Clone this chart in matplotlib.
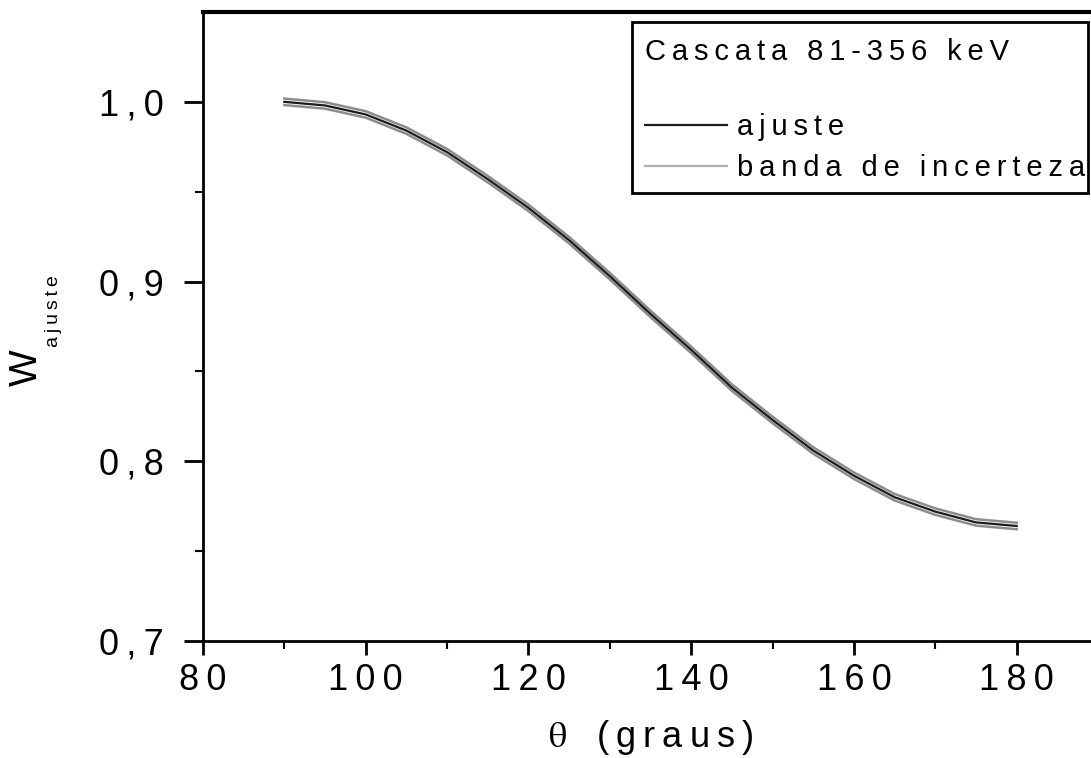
import matplotlib
matplotlib.use("Agg")
import matplotlib.pyplot as plt
from matplotlib.lines import Line2D
from matplotlib.patches import Rectangle

plt.rcParams["font.family"] = ["Liberation Sans", "DejaVu Sans"]
plt.rcParams["mathtext.fontset"] = "stix"

# fitted angular correlation, 81-356 keV cascade
theta = [90, 95, 100, 105, 110, 115, 120, 125, 130, 135,
         140, 145, 150, 155, 160, 165, 170, 175, 180]
w_fit = [1.000, 0.998, 0.993, 0.984, 0.972, 0.957, 0.941, 0.923, 0.903, 0.882,
         0.862, 0.841, 0.823, 0.806, 0.792, 0.780, 0.772, 0.766, 0.764]
w_err = [0.0018, 0.0018, 0.0018, 0.0018, 0.0018, 0.0018, 0.0018, 0.0018, 0.0018, 0.0018,
         0.0018, 0.0018, 0.0018, 0.0018, 0.0018, 0.0018, 0.0018, 0.0018, 0.0018]

x_ticks = [80, 100, 120, 140, 160, 180]
x_labels = ["80", "100", "120", "140", "160", "180"]
y_ticks = [0.7, 0.8, 0.9, 1.0]
y_labels = ["0,7", "0,8", "0,9", "1,0"]

W, H = 1091, 758


def spaced(s):
    # wide letter tracking
    return "\u2009".join(s)


fig = plt.figure(figsize=(W / 100, H / 100), dpi=100)
ax = fig.add_axes([203 / W, 1 - 641 / H, 895 / W, (641 - 12) / H])

upper = [w + e for w, e in zip(w_fit, w_err)]
lower = [w - e for w, e in zip(w_fit, w_err)]
ax.plot(theta, upper, color="#8c8c8c", lw=1.8)
ax.plot(theta, lower, color="#8c8c8c", lw=1.8)
ax.plot(theta, w_fit, color="#1a1a1a", lw=1.6)

ax.set_xlim(80, 190)
ax.set_ylim(0.7, 1.05)
ax.set_xticks(x_ticks)
ax.set_xticklabels([spaced(s) for s in x_labels])
ax.set_xticks([90, 110, 130, 150, 170, 190], minor=True)
ax.set_yticks(y_ticks)
ax.set_yticklabels([spaced(s) for s in y_labels])
ax.set_yticks([0.75, 0.85, 0.95], minor=True)

ax.tick_params(axis="both", which="major", direction="out", width=2, labelsize=26)
ax.tick_params(axis="x", which="major", length=10, pad=6)
ax.tick_params(axis="y", which="major", length=14, pad=14)
ax.tick_params(axis="both", which="minor", direction="out", width=1.5, length=6)

for side in ("left", "bottom"):
    ax.spines[side].set_linewidth(2)
ax.spines["top"].set_linewidth(3)
ax.spines["right"].set_visible(False)

ax.set_xlabel(r"$\mathrm{\theta}$" + "   " + spaced("(graus)"), fontsize=26, labelpad=14)

# y label: W with a small "ajuste" subscript
fig.text(27 / W, 1 - 368 / H, "W", fontsize=28, rotation=90, ha="center", va="center")
fig.text(53 / W, 1 - 311 / H, spaced("ajuste"), fontsize=14, rotation=90,
         ha="center", va="center")

# legend box
fig.add_artist(Rectangle((632 / W, 1 - 193 / H), (1088 - 632) / W, (193 - 22) / H,
                         transform=fig.transFigure, fill=False, lw=2, ec="black"))
fig.text(645 / W, 1 - 52 / H, spaced("Cascata 81-356 keV"), fontsize=21,
         va="center", ha="left")
handles = [Line2D([], [], color="#1a1a1a", lw=1.6),
           Line2D([], [], color="#b0b0b0", lw=1.6)]
ax.legend(handles, [spaced("ajuste"), spaced("banda de incerteza")],
          loc="upper left", bbox_to_anchor=(645 / W, 1 - 113 / H),
          bbox_transform=fig.transFigure, frameon=False, fontsize=21,
          handlelength=2.8, handletextpad=0.35, labelspacing=0.45,
          borderpad=0, borderaxespad=0)

fig.savefig("out.png", dpi=100)
